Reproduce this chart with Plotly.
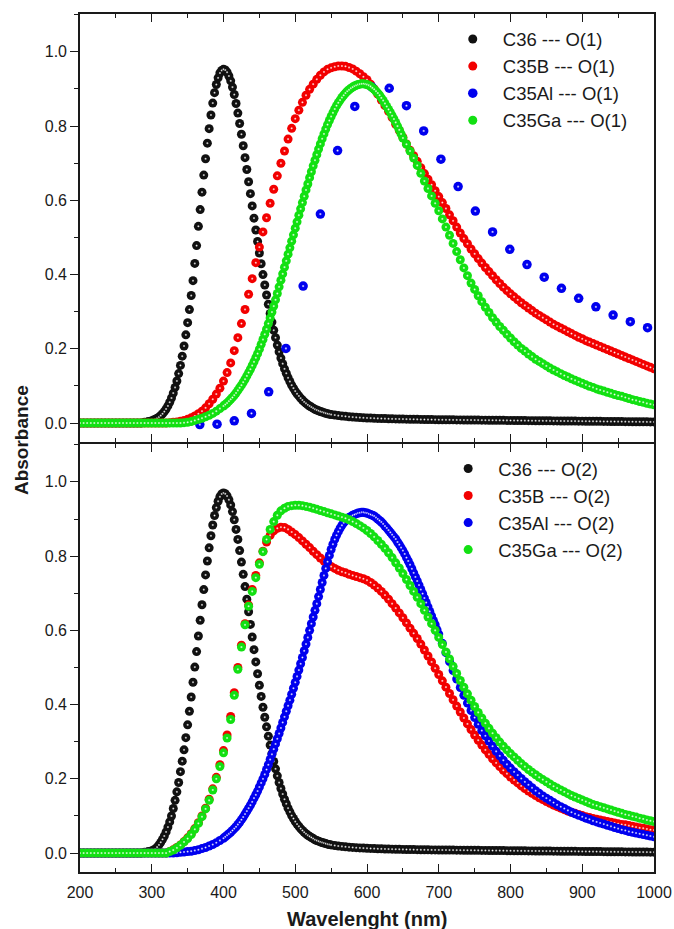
import plotly.graph_objects as go


def grid(start, stop, step):
    n = int(round((stop - start) / step))
    return [start + i * step for i in range(n)]


# ---------------- wavelength grids (nm) ----------------
wl_5nm = grid(200, 1005, 5)
wl_black = grid(200, 300, 5) + grid(300, 550, 2.5) + grid(550, 1005, 5)
wl_ga_o1 = grid(200, 400, 5) + grid(400, 650, 2.5) + grid(650, 1005, 5)
wl_al_o2 = grid(200, 400, 5) + grid(400, 700, 2.5) + grid(700, 1005, 5)
wl_al_o1 = [367, 391, 415, 439, 463, 487, 511, 535, 559, 583, 607, 631, 655, 679,
            703, 727, 751, 775, 799, 823, 847, 871, 895, 919, 943, 967, 991]

# ---------------- O(1) panel ----------------
c36_o1 = (
    [0, 0, 0, 0, 0, 0, 0, 0, 0, 0, 0, 0, 0, 0, 0, 0, 0, 0, 0.002, 0.004]
    + [0.0062, 0.0079, 0.0101, 0.0128, 0.0161, 0.0201, 0.025, 0.0309, 0.0379, 0.0462,
       0.056, 0.0674, 0.0807, 0.096, 0.1134, 0.1332, 0.1553, 0.1801, 0.2076, 0.2377]
    + [0.2704, 0.3057, 0.3435, 0.3836, 0.43, 0.478, 0.53, 0.575, 0.622, 0.668,
       0.712, 0.754, 0.793, 0.83, 0.862, 0.89, 0.912, 0.93, 0.943, 0.95]
    + [0.953, 0.951, 0.945, 0.935, 0.922, 0.905, 0.885, 0.861, 0.835, 0.807,
       0.778, 0.747, 0.715, 0.683, 0.65, 0.618, 0.585, 0.552, 0.52, 0.489]
    + [0.458, 0.429, 0.40, 0.372, 0.345, 0.32, 0.295, 0.272, 0.25, 0.23,
       0.21, 0.192, 0.175, 0.16, 0.146, 0.134, 0.122, 0.112, 0.102, 0.094]
    + [0.086, 0.079, 0.073, 0.067, 0.062, 0.057, 0.053, 0.049, 0.046, 0.043,
       0.04, 0.037, 0.035, 0.033, 0.031, 0.0295, 0.028, 0.0265, 0.025, 0.024]
    + [0.023, 0.0215, 0.02, 0.019, 0.018, 0.017, 0.016, 0.0153, 0.0147, 0.0142,
       0.0137, 0.0133, 0.0129, 0.0125, 0.0122, 0.0119, 0.0116, 0.0113, 0.0111, 0.0109,
       0.0107, 0.0105, 0.0103, 0.0101, 0.0099, 0.0097, 0.0096, 0.0094, 0.0093, 0.0092,
       0.009, 0.0089, 0.0088, 0.0087, 0.0086, 0.0085, 0.0084, 0.0083, 0.0082, 0.0081,
       0.008, 0.0079, 0.0078, 0.0077, 0.0076, 0.0075, 0.0074, 0.0073, 0.0072, 0.0071,
       0.007, 0.0069, 0.0068, 0.0067, 0.0066, 0.0065, 0.0064, 0.0063, 0.0062, 0.0061,
       0.006, 0.0059, 0.0058, 0.0057, 0.0056, 0.0055, 0.0054, 0.0053, 0.0052, 0.0051,
       0.005, 0.0049, 0.0048, 0.0047, 0.0046, 0.0045, 0.0044, 0.0043, 0.0042, 0.0041,
       0.004, 0.0039, 0.0038, 0.0037, 0.0036, 0.0035, 0.0034, 0.0033, 0.0032, 0.0031,
       0.003]
)

c35b_o1 = [
    0, 0, 0, 0, 0, 0, 0, 0, 0, 0,
    0, 0, 0, 0, 0, 0, 0, 0, 0, 0,
    0, 0, 0, 0, 0.0, 0.001, 0.002, 0.003, 0.005, 0.007,
    0.01, 0.014, 0.019, 0.025, 0.032, 0.041, 0.052, 0.064, 0.078, 0.094,
    0.113, 0.136, 0.162, 0.195, 0.23, 0.268, 0.306, 0.347, 0.389, 0.432,
    0.474, 0.515, 0.553, 0.592, 0.63, 0.666, 0.70, 0.733, 0.765, 0.794,
    0.82, 0.843, 0.864, 0.883, 0.899, 0.913, 0.926, 0.937, 0.946, 0.953,
    0.957, 0.96, 0.962, 0.962, 0.961, 0.958, 0.954, 0.948, 0.941, 0.933,
    0.925, 0.913, 0.90, 0.886, 0.87, 0.855, 0.84, 0.823, 0.805, 0.788,
    0.77, 0.752, 0.735, 0.72, 0.705, 0.688, 0.672, 0.657, 0.642, 0.626,
    0.61, 0.594, 0.578, 0.561, 0.545, 0.528, 0.512, 0.497, 0.483, 0.469,
    0.456, 0.443, 0.431, 0.419, 0.408, 0.397, 0.386, 0.376, 0.366, 0.357,
    0.348, 0.34, 0.332, 0.324, 0.317, 0.31, 0.303, 0.296, 0.29, 0.284,
    0.278, 0.272, 0.266, 0.261, 0.256, 0.251, 0.246, 0.241, 0.236, 0.231,
    0.227, 0.222, 0.218, 0.214, 0.21, 0.206, 0.202, 0.198, 0.194, 0.19,
    0.186, 0.182, 0.178, 0.174, 0.17, 0.166, 0.162, 0.158, 0.154, 0.15,
    0.146,
]

c35al_o1 = [-0.004, -0.003, 0.006, 0.026, 0.084, 0.201, 0.369, 0.563, 0.734, 0.853,
            0.905, 0.902, 0.855, 0.787, 0.711, 0.637, 0.571, 0.515, 0.468, 0.427,
            0.393, 0.363, 0.336, 0.313, 0.291, 0.273, 0.257]

c35ga_o1 = (
    [0, 0, 0, 0, 0, 0, 0, 0, 0, 0,
     0, 0, 0, 0, 0, 0, 0, 0, 0, 0,
     0, 0, 0, 0, 0, 0, 0, 0, 0.0, 0.001,
     0.002, 0.004, 0.007, 0.01, 0.013, 0.017, 0.021, 0.026, 0.032, 0.039]
    + [0.046, 0.05, 0.054, 0.059, 0.064, 0.069, 0.075, 0.081, 0.088, 0.095,
       0.102, 0.11, 0.118, 0.127, 0.136, 0.145, 0.155, 0.165, 0.176, 0.187]
    + [0.199, 0.212, 0.225, 0.239, 0.253, 0.268, 0.283, 0.299, 0.315, 0.332,
       0.349, 0.367, 0.385, 0.402, 0.42, 0.437, 0.455, 0.472, 0.49, 0.507]
    + [0.525, 0.542, 0.56, 0.577, 0.594, 0.611, 0.628, 0.644, 0.661, 0.677,
       0.693, 0.708, 0.723, 0.738, 0.752, 0.766, 0.779, 0.792, 0.804, 0.815]
    + [0.826, 0.836, 0.846, 0.855, 0.863, 0.87, 0.877, 0.883, 0.889, 0.894,
       0.898, 0.902, 0.905, 0.908, 0.91, 0.912, 0.913, 0.914, 0.914, 0.913]
    + [0.912, 0.91, 0.907, 0.903, 0.899, 0.894, 0.889, 0.883, 0.876, 0.869,
       0.861, 0.853, 0.845, 0.837, 0.828, 0.819, 0.81, 0.8, 0.79, 0.779]
    + [0.768, 0.751, 0.733, 0.714, 0.694, 0.673, 0.652, 0.632, 0.612, 0.592,
       0.572, 0.55, 0.528, 0.506, 0.484, 0.462, 0.44, 0.418, 0.397, 0.377,
       0.36, 0.343, 0.327, 0.312, 0.298, 0.284, 0.272, 0.26, 0.25, 0.239,
       0.229, 0.219, 0.21, 0.201, 0.194, 0.186, 0.179, 0.172, 0.166, 0.16,
       0.154, 0.148, 0.143, 0.138, 0.133, 0.128, 0.124, 0.119, 0.115, 0.111,
       0.107, 0.103, 0.099, 0.096, 0.092, 0.089, 0.086, 0.083, 0.08, 0.077,
       0.074, 0.072, 0.069, 0.066, 0.063, 0.061, 0.058, 0.056, 0.053, 0.051,
       0.049]
)

# ---------------- O(2) panel ----------------
c36_o2 = (
    [0, 0, 0, 0, 0, 0, 0, 0, 0, 0, 0, 0, 0, 0, 0, 0, 0, 0, 0.002, 0.004]
    + [0.006, 0.008, 0.011, 0.016, 0.022, 0.029, 0.037, 0.046, 0.057, 0.07,
       0.084, 0.1, 0.12, 0.142, 0.165, 0.19, 0.2194, 0.2477, 0.2782, 0.3109]
    + [0.3455, 0.3822, 0.4204, 0.4602, 0.501, 0.5428, 0.5849, 0.6272, 0.6689, 0.7098,
       0.7494, 0.787, 0.8223, 0.8549, 0.884, 0.9094, 0.9308, 0.9477, 0.96, 0.9675]
    + [0.97, 0.968, 0.962, 0.952, 0.938, 0.92, 0.898, 0.872, 0.845, 0.815,
       0.784, 0.751, 0.718, 0.684, 0.65, 0.616, 0.582, 0.548, 0.515, 0.483]
    + [0.452, 0.422, 0.393, 0.366, 0.34, 0.315, 0.291, 0.268, 0.247, 0.227,
       0.208, 0.19, 0.174, 0.159, 0.145, 0.133, 0.121, 0.111, 0.101, 0.093]
    + [0.085, 0.078, 0.072, 0.066, 0.061, 0.056, 0.052, 0.048, 0.045, 0.042,
       0.039, 0.036, 0.034, 0.032, 0.03, 0.0285, 0.027, 0.0255, 0.024, 0.023]
    + [0.022, 0.0205, 0.019, 0.018, 0.017, 0.016, 0.0152, 0.0145, 0.0139, 0.0134,
       0.0129, 0.0125, 0.0121, 0.0117, 0.0114, 0.0111, 0.0108, 0.0105, 0.0103, 0.0101,
       0.0099, 0.0097, 0.0095, 0.0093, 0.0091, 0.009, 0.0088, 0.0087, 0.0086, 0.0085,
       0.0084, 0.0083, 0.0082, 0.0081, 0.008, 0.0079, 0.0078, 0.0077, 0.0076, 0.0075,
       0.0074, 0.0073, 0.0072, 0.0071, 0.007, 0.0069, 0.0068, 0.0067, 0.0066, 0.0065,
       0.0064, 0.0063, 0.0062, 0.0061, 0.006, 0.0059, 0.0058, 0.0057, 0.0056, 0.0055,
       0.0054, 0.0053, 0.0052, 0.0051, 0.005, 0.0049, 0.0048, 0.0047, 0.0046, 0.0045,
       0.0044, 0.0043, 0.0042, 0.0041, 0.004, 0.0039, 0.0038, 0.0037, 0.0036, 0.0035,
       0.0034, 0.0033, 0.0032, 0.0031, 0.003, 0.0029, 0.0028, 0.0027, 0.0026, 0.0025,
       0.0024]
)

c35b_o2 = [
    0, 0, 0, 0, 0, 0, 0, 0, 0, 0,
    0, 0, 0, 0, 0, 0, 0, 0, 0, 0,
    0, 0, 0, 0, 0.0, 0.004, 0.009, 0.015, 0.022, 0.031,
    0.041, 0.052, 0.066, 0.082, 0.1, 0.121, 0.145, 0.173, 0.204, 0.238,
    0.276, 0.318, 0.368, 0.432, 0.5, 0.56, 0.618, 0.668, 0.71, 0.748,
    0.782, 0.813, 0.838, 0.856, 0.868, 0.875, 0.878, 0.877, 0.872, 0.865,
    0.858, 0.85, 0.841, 0.832, 0.823, 0.813, 0.804, 0.795, 0.787, 0.779,
    0.772, 0.767, 0.762, 0.758, 0.755, 0.751, 0.748, 0.745, 0.742, 0.739,
    0.735, 0.729, 0.722, 0.714, 0.705, 0.695, 0.684, 0.672, 0.66, 0.647,
    0.634, 0.62, 0.606, 0.592, 0.578, 0.563, 0.547, 0.531, 0.515, 0.498,
    0.481, 0.464, 0.447, 0.43, 0.413, 0.396, 0.38, 0.364, 0.348, 0.333,
    0.318, 0.304, 0.291, 0.278, 0.266, 0.254, 0.243, 0.233, 0.223, 0.214,
    0.205, 0.197, 0.189, 0.181, 0.174, 0.167, 0.161, 0.155, 0.149, 0.144,
    0.139, 0.134, 0.129, 0.125, 0.121, 0.117, 0.113, 0.11, 0.107, 0.104,
    0.101, 0.098, 0.096, 0.093, 0.091, 0.089, 0.087, 0.085, 0.083, 0.081,
    0.079, 0.077, 0.076, 0.074, 0.072, 0.07, 0.068, 0.067, 0.065, 0.063,
    0.062,
]

c35al_o2 = (
    [0, 0, 0, 0, 0, 0, 0, 0, 0, 0,
     0, 0, 0, 0, 0, 0, 0, 0, 0, 0,
     0, 0, 0, 0, 0, 0, 0.0, 0.001, 0.002, 0.003,
     0.004, 0.005, 0.007, 0.009, 0.012, 0.015, 0.019, 0.023, 0.028, 0.034]
    + [0.04, 0.044, 0.048, 0.052, 0.056, 0.061, 0.066, 0.071, 0.077, 0.083,
       0.09, 0.097, 0.105, 0.113, 0.121, 0.129, 0.138, 0.148, 0.157, 0.167]
    + [0.178, 0.189, 0.2, 0.212, 0.225, 0.238, 0.252, 0.266, 0.28, 0.294,
       0.308, 0.322, 0.337, 0.352, 0.367, 0.382, 0.397, 0.412, 0.428, 0.444]
    + [0.46, 0.476, 0.493, 0.51, 0.527, 0.545, 0.563, 0.581, 0.6, 0.618,
       0.636, 0.654, 0.672, 0.691, 0.71, 0.729, 0.748, 0.767, 0.785, 0.802]
    + [0.818, 0.832, 0.845, 0.856, 0.866, 0.875, 0.883, 0.89, 0.895, 0.9,
       0.904, 0.907, 0.91, 0.912, 0.914, 0.916, 0.917, 0.918, 0.918, 0.917]
    + [0.916, 0.914, 0.912, 0.91, 0.908, 0.904, 0.9, 0.896, 0.892, 0.887,
       0.881, 0.876, 0.87, 0.864, 0.858, 0.852, 0.846, 0.838, 0.831, 0.823]
    + [0.815, 0.806, 0.796, 0.787, 0.777, 0.766, 0.755, 0.744, 0.733, 0.722,
       0.71, 0.699, 0.687, 0.675, 0.663, 0.651, 0.639, 0.627, 0.615, 0.602]
    + [0.59, 0.565, 0.54, 0.516, 0.492, 0.469, 0.446, 0.425, 0.404, 0.384,
       0.365, 0.347, 0.33, 0.316, 0.302, 0.288, 0.274, 0.262, 0.25, 0.239,
       0.229, 0.219, 0.21, 0.201, 0.192, 0.184, 0.176, 0.168, 0.161, 0.154,
       0.148, 0.142, 0.136, 0.13, 0.125, 0.12, 0.115, 0.11, 0.106, 0.102,
       0.098, 0.094, 0.091, 0.087, 0.084, 0.081, 0.078, 0.075, 0.072, 0.069,
       0.066, 0.063, 0.061, 0.058, 0.056, 0.054, 0.052, 0.05, 0.048, 0.046,
       0.044]
)

c35ga_o2 = [
    0, 0, 0, 0, 0, 0, 0, 0, 0, 0,
    0, 0, 0, 0, 0, 0, 0, 0, 0, 0,
    0, 0, 0, 0, 0.0, 0.004, 0.008, 0.014, 0.021, 0.03,
    0.039, 0.05, 0.064, 0.08, 0.098, 0.119, 0.142, 0.17, 0.2, 0.233,
    0.27, 0.31, 0.36, 0.425, 0.495, 0.555, 0.615, 0.665, 0.705, 0.742,
    0.778, 0.812, 0.845, 0.872, 0.893, 0.91, 0.922, 0.929, 0.934, 0.936,
    0.937, 0.937, 0.936, 0.934, 0.932, 0.929, 0.926, 0.923, 0.92, 0.917,
    0.914, 0.911, 0.908, 0.905, 0.902, 0.898, 0.893, 0.888, 0.882, 0.876,
    0.869, 0.861, 0.852, 0.842, 0.832, 0.821, 0.809, 0.796, 0.782, 0.768,
    0.753, 0.737, 0.721, 0.705, 0.689, 0.672, 0.654, 0.636, 0.618, 0.6,
    0.581, 0.562, 0.542, 0.523, 0.503, 0.484, 0.465, 0.447, 0.429, 0.412,
    0.395, 0.379, 0.364, 0.35, 0.336, 0.323, 0.311, 0.299, 0.288, 0.278,
    0.268, 0.259, 0.25, 0.241, 0.233, 0.225, 0.218, 0.211, 0.204, 0.198,
    0.192, 0.186, 0.18, 0.175, 0.17, 0.165, 0.16, 0.155, 0.151, 0.147,
    0.143, 0.139, 0.135, 0.131, 0.128, 0.125, 0.122, 0.119, 0.116, 0.113,
    0.11, 0.107, 0.104, 0.102, 0.099, 0.097, 0.094, 0.092, 0.089, 0.087,
    0.085,
]

names_o1 = ["C36 --- O(1)", "C35B --- O(1)", "C35Al --- O(1)", "C35Ga --- O(1)"]
names_o2 = ["C36 --- O(2)", "C35B --- O(2)", "C35Al --- O(2)", "C35Ga --- O(2)"]
colors = ["#111111", "#f20000", "#0000ee", "#12e012"]

FONT = "Liberation Sans, Arial, sans-serif"
INK = "#1a1a1a"
fig = go.Figure()


def add_series(x, y, color, name, xa, ya, legend, size=9):
    n = min(len(x), len(y))
    if len(x) != len(y):
        print("length mismatch", name, len(x), len(y))
    x, y = x[:n], y[:n]
    fig.add_trace(go.Scatter(
        x=x, y=y, mode="markers", name=name, xaxis=xa, yaxis=ya, legend=legend,
        marker=dict(size=size, color=color, line=dict(width=0))))
    fig.add_trace(go.Scatter(
        x=x, y=y, mode="markers", showlegend=False, hoverinfo="skip",
        xaxis=xa, yaxis=ya,
        marker=dict(size=size * 0.34, color=color, line=dict(width=0),
                    gradient=dict(type="radial", color="white"))))


# top panel (O(1))
add_series(wl_black, c36_o1, colors[0], names_o1[0], "x2", "y2", "legend")
add_series(wl_5nm, c35b_o1, colors[1], names_o1[1], "x2", "y2", "legend")
add_series(wl_al_o1, c35al_o1, colors[2], names_o1[2], "x2", "y2", "legend", size=9.5)
add_series(wl_ga_o1, c35ga_o1, colors[3], names_o1[3], "x2", "y2", "legend")
# bottom panel (O(2))
add_series(wl_black, c36_o2, colors[0], names_o2[0], "x", "y", "legend2")
add_series(wl_5nm, c35b_o2, colors[1], names_o2[1], "x", "y", "legend2")
add_series(wl_al_o2, c35al_o2, colors[2], names_o2[2], "x", "y", "legend2")
add_series(wl_5nm, c35ga_o2, colors[3], names_o2[3], "x", "y", "legend2")

tickfont = dict(family=FONT, size=16, color=INK)
xcommon = dict(range=[200, 1000], showline=True, linecolor=INK, linewidth=1.6,
               mirror="ticks", ticks="inside", ticklen=8, tickwidth=1.4, tickcolor=INK,
               tick0=200, dtick=100, showgrid=False, zeroline=False, automargin=False,
               minor=dict(dtick=50, ticks="inside", ticklen=4, tickwidth=1.4, tickcolor=INK),
               tickfont=tickfont)
ycommon = dict(range=[-0.051, 1.102], showline=True, linecolor=INK, linewidth=1.6,
               mirror=True, ticks="outside", ticklen=8, tickwidth=1.4, tickcolor=INK,
               tick0=0, dtick=0.2, tickformat=".1f", showgrid=False, zeroline=False,
               automargin=False,
               minor=dict(dtick=0.1, ticks="outside", ticklen=4, tickwidth=1.4, tickcolor=INK),
               tickfont=tickfont)
yright = dict(range=[-0.051, 1.102], showline=False, ticks="inside", ticklen=8, tickwidth=1.4,
              tickcolor=INK, tick0=0, dtick=0.2, showticklabels=False, showgrid=False,
              zeroline=False, side="right", automargin=False,
              minor=dict(dtick=0.1, ticks="inside", ticklen=4, tickwidth=1.4, tickcolor=INK))

split_lo, split_hi = 0.4988, 0.5012
legend_font = dict(family=FONT, size=18.5, color=INK)
fig.update_layout(
    width=674, height=929,
    margin=dict(l=80, r=20, t=14, b=57, autoexpand=False),
    paper_bgcolor="white", plot_bgcolor="white",
    font=dict(family=FONT, color=INK),
    xaxis=dict(**xcommon, anchor="y", domain=[0, 1], ticklabelstandoff=5),
    xaxis2=dict(**xcommon, anchor="y2", domain=[0, 1], matches="x", showticklabels=False),
    yaxis=dict(**ycommon, anchor="x", domain=[0, split_lo]),
    yaxis2=dict(**ycommon, anchor="x2", domain=[split_hi, 1]),
    yaxis3=dict(**yright, overlaying="y", anchor="x"),
    yaxis4=dict(**yright, overlaying="y2", anchor="x2"),
    legend=dict(x=0.632, y=0.9924, xanchor="left", yanchor="top", bgcolor="rgba(0,0,0,0)",
                font=legend_font, itemwidth=50, tracegroupgap=0),
    legend2=dict(x=0.624, y=0.4919, xanchor="left", yanchor="top", bgcolor="rgba(0,0,0,0)",
                 font=legend_font, itemwidth=50, tracegroupgap=0),
    annotations=[
        dict(text="<b>Wavelenght (nm)</b>", xref="paper", yref="paper", x=0.5, y=-0.0548,
             xanchor="center", yanchor="middle", showarrow=False,
             font=dict(family=FONT, size=20, color=INK)),
        dict(text="<b>Absorbance</b>", xref="paper", yref="paper", x=-0.101, y=0.5035,
             xanchor="center", yanchor="middle", showarrow=False, textangle=-90,
             font=dict(family=FONT, size=19, color=INK)),
    ],
    showlegend=True,
)

# remove the default 8 px page margin so the figure fills the window exactly
fig.write_html("out.html", config={"displayModeBar": False},
               post_script="document.body.style.margin='0px';")
